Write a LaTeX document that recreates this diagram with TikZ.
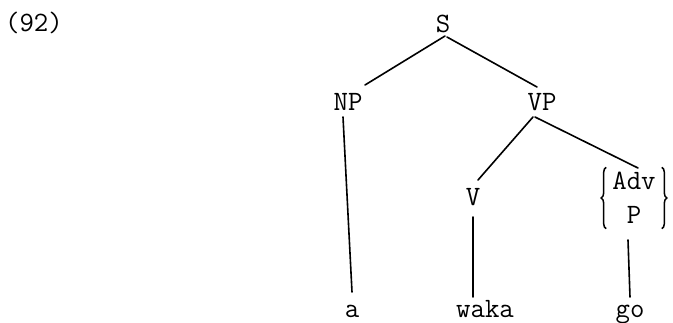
\documentclass[tikz,border=0pt]{standalone}
\usetikzlibrary{calc,decorations.pathreplacing}
\begin{document}
\begin{tikzpicture}[x=1pt,y=-1pt,
  lbl/.style={font=\ttfamily\fontsize{28}{34}\selectfont,inner sep=0pt,anchor=base},
  edge/.style={line width=1.6pt,line cap=round},
  curly/.style={line width=1.5pt,decorate,decoration={brace,amplitude=5pt}}]
\useasboundingbox (0,0) rectangle (673,322);
\node[lbl] (ex) at (34,31) {(92)};
\node[lbl] (S) at (443,32) {S};
\node[lbl] (NP) at (348,110) {NP};
\node[lbl] (VP) at (542,110) {VP};
\node[lbl] (V) at (473,205) {V};
\node[lbl,anchor=center,align=center,inner xsep=6pt,minimum height=61pt] (AdvP) at (634,198) {Adv\\P};
\node[lbl] (a) at (352,317) {a};
\node[lbl] (waka) at (485,317) {waka};
\node[lbl] (go) at (630,317) {go};
\draw[curly] (AdvP.south west) -- (AdvP.north west);
\draw[curly] (AdvP.north east) -- (AdvP.south east);
\draw[edge] ($(S.base)+(2,4)$) -- ($(NP.base)+(17,-25)$);
\draw[edge] ($(S.base)+(4,5)$) -- ($(VP.base)+(-5,-23)$);
\draw[edge] ($(NP.base)+(-5,7)$) -- ($(a.base)+(0,-25)$);
\draw[edge] ($(VP.base)+(-9,7)$) -- ($(V.base)+(5,-25)$);
\draw[edge] ($(VP.base)+(-7,7)$) -- ($(AdvP.center)+(4,-30)$);
\draw[edge] ($(V.base)+(0,12)$) -- ($(waka.base)+(-12,-20)$);
\draw[edge] ($(AdvP.center)+(-6,42)$) -- ($(go.base)+(0,-20)$);
\end{tikzpicture}
\end{document}
